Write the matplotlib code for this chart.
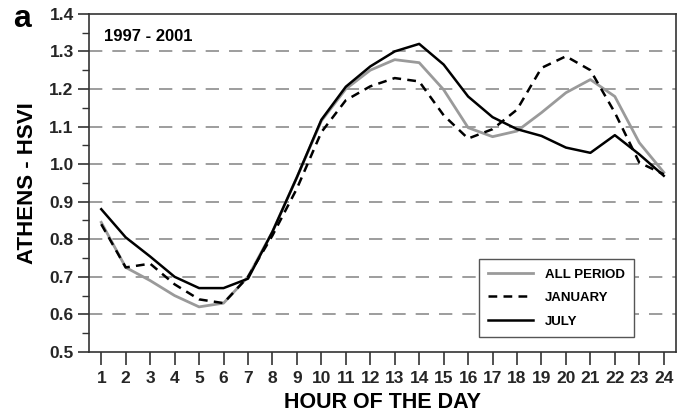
import matplotlib
matplotlib.use('Agg')
import matplotlib.pyplot as plt
from matplotlib.ticker import MultipleLocator

'''Data read from the figure'''
hours = list(range(1, 25))
all_period = [0.845, 0.725, 0.69, 0.65, 0.62, 0.63, 0.70, 0.82, 0.965, 1.115, 1.20, 1.25,
              1.278, 1.27, 1.198, 1.097, 1.073, 1.088, 1.137, 1.19, 1.225, 1.18, 1.057, 0.978]
january = [0.84, 0.725, 0.735, 0.68, 0.64, 0.63, 0.70, 0.81, 0.935, 1.085, 1.17, 1.207,
           1.229, 1.22, 1.13, 1.068, 1.093, 1.145, 1.256, 1.287, 1.25, 1.137, 1.004, 0.973]
july = [0.88, 0.805, 0.754, 0.70, 0.67, 0.67, 0.695, 0.82, 0.965, 1.118, 1.206, 1.26,
        1.30, 1.32, 1.265, 1.18, 1.125, 1.093, 1.075, 1.044, 1.03, 1.077, 1.026, 0.969]
grid_levels = [0.6, 0.7, 0.8, 0.9, 1.0, 1.1, 1.2, 1.3]

plt.rcParams['font.family'] = ['Liberation Sans', 'DejaVu Sans']

fig = plt.figure(figsize=(6.77, 4.19), dpi=100)
ax = fig.add_axes([0.1315, 0.16, 0.867, 0.807])

for g in grid_levels:
    ax.axhline(g, color='#8c8c8c', lw=1.2, dashes=(8, 6), zorder=1)

ax.plot(hours, all_period, color='#9a9a9a', lw=2.0, label='ALL PERIOD', zorder=3)
ax.plot(hours, january, color='black', lw=1.8, dashes=(3.5, 2.5), label='JANUARY', zorder=4)
ax.plot(hours, july, color='black', lw=1.8, label='JULY', zorder=5)

ax.set_xlim(0.5, 24.5)
ax.set_ylim(0.5, 1.4)
ax.set_xticks(hours)
ax.yaxis.set_major_locator(MultipleLocator(0.1))
ax.yaxis.set_minor_locator(MultipleLocator(0.05))
ax.yaxis.set_major_formatter(plt.FormatStrFormatter('%.1f'))

for s in ax.spines.values():
    s.set_color('#333333')
    s.set_linewidth(1.2)

ax.tick_params(axis='x', direction='out', length=9, width=1.2, color='#333333',
               labelsize=12.5, pad=5)
ax.tick_params(axis='y', which='major', direction='out', length=8, width=1.2,
               color='#333333', labelsize=12.5, pad=3)
ax.tick_params(axis='y', which='minor', direction='out', length=5, width=1.0, color='#333333')
for lab in ax.get_xticklabels() + ax.get_yticklabels():
    lab.set_fontweight('bold')
    lab.set_color('#262626')

ax.set_xlabel('HOUR OF THE DAY', fontsize=15.5, fontweight='bold', labelpad=4)
ax.set_ylabel('ATHENS - HSVI', fontsize=16, fontweight='bold', labelpad=8)

ax.text(0.025, 0.955, '1997 - 2001', transform=ax.transAxes, fontsize=12,
        fontweight='bold', va='top', ha='left')
fig.text(0.02, 0.99, 'a', fontsize=23, fontweight='bold', va='top', ha='left')

leg = ax.legend(loc='lower right', bbox_to_anchor=(0.928, 0.045), fancybox=False,
                edgecolor='#555555', framealpha=1, handlelength=3.4, handletextpad=0.9,
                labelspacing=0.85, borderpad=0.7, borderaxespad=0.0,
                prop={'weight': 'bold', 'size': 9.5})
leg.get_frame().set_linewidth(1.0)

plt.savefig('out.png', dpi=100)
